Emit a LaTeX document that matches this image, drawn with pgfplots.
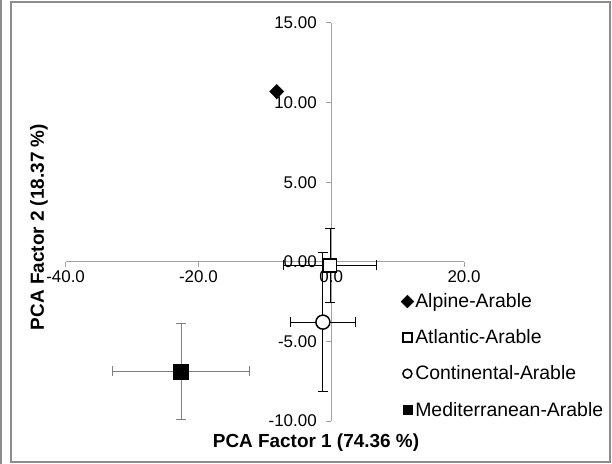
\documentclass[border=0pt]{standalone}
\usepackage{fontspec}
\setmainfont{Liberation Sans}
\usepackage{pgfplots}
\pgfplotsset{compat=1.18}

\definecolor{axisgray}{HTML}{A0A0A0}
\definecolor{framegray}{HTML}{8C8C8C}
\definecolor{bargray}{HTML}{7F7F7F}

\begin{document}
\begin{tikzpicture}
\useasboundingbox (0,0) rectangle (612bp,464bp);
\draw[framegray, line width=2bp] (11bp,2.3bp) rectangle (610bp,462bp);
\draw[framegray, line width=1.5bp] (1bp,0bp) -- (1bp,464bp);

\begin{axis}[
  at={(65.6bp,43bp)}, anchor=south west,
  scale only axis,
  width=398.4bp, height=398bp,
  axis lines=center,
  axis line style={-, axisgray, line width=1.2bp},
  xmin=-40, xmax=20,
  ymin=-10, ymax=15,
  xtick={-40,-20,0,20},
  ytick={-10,-5,0,5,10,15},
  hide obscured x ticks=false,
  hide obscured y ticks=false,
  tick align=outside,
  major tick length=5bp,
  tick style={axisgray, line width=1bp},
  /pgf/number format/assume math mode=true,
  xticklabel style={/pgf/number format/.cd, fixed, fixed zerofill, precision=1},
  yticklabel style={xshift=-6bp, /pgf/number format/.cd, fixed, fixed zerofill, precision=2},
  ticklabel style={font=\fontsize{17}{20}\selectfont},
  xlabel={PCA Factor 1 (74.36 \%)},
  ylabel={PCA Factor 2 (18.37 \%)},
  label style={font=\fontsize{19}{22}\selectfont\bfseries},
  xlabel style={at={(rel axis cs:0.6285,-0.0553)}, anchor=center},
  ylabel style={at={(rel axis cs:-0.0668,0.4874)}, anchor=center, rotate=90},
  legend style={draw=none, fill=none, at={(rel axis cs:0.834,0.329)}, anchor=north west,
    font=\fontsize{19.5}{22}\selectfont, row sep=17.5bp,
    nodes={inner sep=1.5bp}},
  legend cell align=left,
  legend image code/.code={\draw[mark size=4.5bp] plot coordinates {(3bp,0bp)};},
  error bars/error bar style={black, line width=1bp},
  error bars/error mark options={rotate=90, black, line width=1bp, mark size=5bp},
]

% Alpine-Arable
\addplot+[only marks, mark=square*, mark size=5bp, black,
  mark options={rotate=45, fill=black}]
  coordinates {(-8.2,10.7)};
\addlegendentry{Alpine-Arable}

% Atlantic-Arable
\addplot+[only marks, mark=square*, mark size=6.5bp, black,
  mark options={fill=white, draw=black, line width=1.5bp},
  error bars/.cd, x dir=both, x explicit, y dir=both, y explicit]
  coordinates {(-0.15,-0.23) +- (7.0,2.32)};
\addlegendentry{Atlantic-Arable}

% Continental-Arable
\addplot+[only marks, mark=*, mark size=7bp, black,
  mark options={fill=white, draw=black, line width=1.5bp},
  error bars/.cd, x dir=both, x explicit, y dir=both, y explicit]
  coordinates {(-1.25,-3.79) +- (4.9,4.36)};
\addlegendentry{Continental-Arable}

% Mediterranean-Arable
\addplot+[only marks, mark=square*, mark size=7.5bp, black,
  mark options={fill=black, draw=black},
  error bars/.cd, x dir=both, x explicit, y dir=both, y explicit,
  error bar style={bargray, line width=1bp},
  error mark options={rotate=90, bargray, line width=1bp, mark size=5bp}]
  coordinates {(-22.6,-6.89) +- (10.3,3.0)};
\addlegendentry{Mediterranean-Arable}

\end{axis}
\end{tikzpicture}
\end{document}
